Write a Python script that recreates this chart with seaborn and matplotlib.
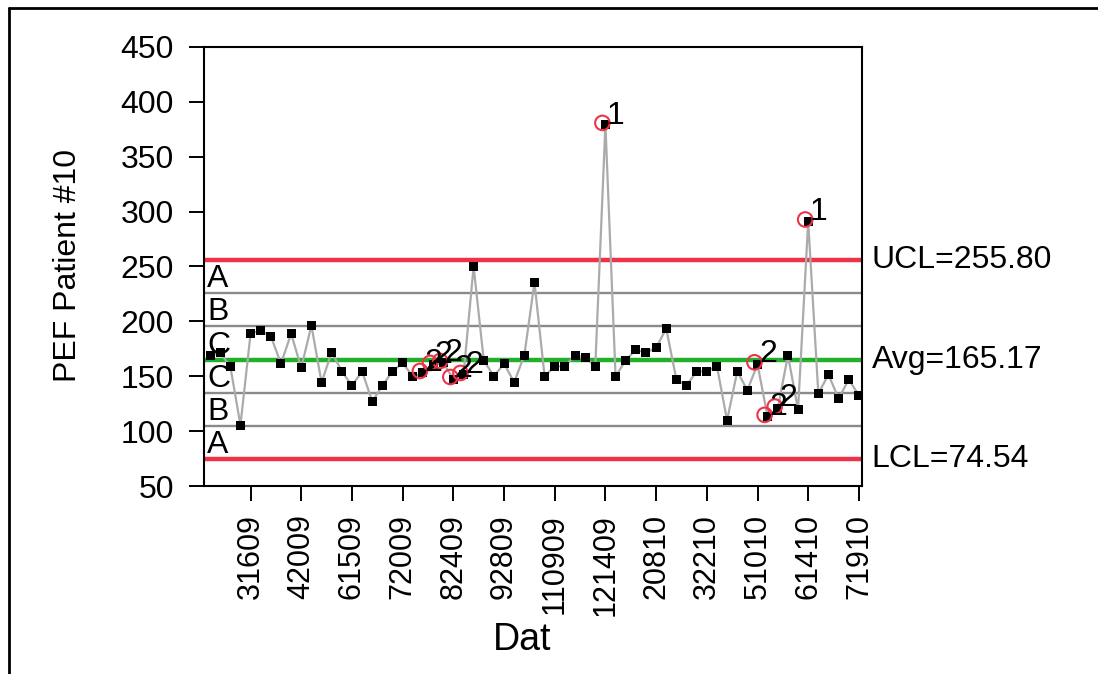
import matplotlib
matplotlib.use("Agg")
import numpy as np
import pandas as pd
import seaborn as sns
import matplotlib.pyplot as plt
from matplotlib.lines import Line2D
from matplotlib.transforms import offset_copy, blended_transform_factory
from matplotlib import font_manager

# ---------------- data ----------------
pef_values = [169.1, 171.2, 159.1, 105.5, 188.8, 191.8, 186.4, 161.5, 188.8, 157.6,
              196.4, 144.2, 172.1, 154.5, 141.5, 154.5, 127.0, 141.5, 154.5, 162.1,
              150.0, 153.0, 160.3, 162.1, 147.5, 151.2, 250.0, 164.5, 150.0, 161.5,
              144.5, 169.1, 235.5, 150.0, 159.1, 159.1, 169.1, 167.0, 159.1, 379.0,
              150.0, 164.5, 174.3, 171.5, 176.1, 193.4, 147.0, 141.5, 154.5, 154.5,
              159.1, 109.7, 154.5, 137.3, 160.9, 113.0, 120.6, 169.1, 119.7, 291.0,
              134.3, 151.5, 129.7, 147.0, 132.7]
tick_labels = ["31609", "42009", "61509", "72009", "82409", "92809", "110909",
               "121409", "20810", "32210", "51010", "61410", "71910"]
ucl = 255.80
avg = 165.17
lcl = 74.54
zone_letters = ["A", "B", "C", "C", "B", "A"]

# ---------------- tests ----------------
n = len(pef_values)
vals = np.array(pef_values)
test1 = [i for i in range(n) if vals[i] > ucl or vals[i] < lcl]
test2 = []
side = np.sign(vals - avg)
for i in range(8, n):
    s = side[i - 8:i + 1]
    if np.all(s == s[0]) and s[0] != 0:
        test2.append(i)

df = pd.DataFrame({"idx": np.arange(n), "PEF": vals})

# ---------------- style ----------------
sns.set_theme(style="ticks")
plt.rcParams["font.family"] = ["Liberation Sans", "DejaVu Sans"]
plt.rcParams["text.color"] = "black"
plt.rcParams["axes.labelcolor"] = "black"
FS = 23

installed = {f.name for f in font_manager.fontManager.ttflist}
narrow = ["Liberation Sans Narrow", "Liberation Sans"] if "Liberation Sans Narrow" in installed \
    else ["Liberation Sans", "DejaVu Sans"]

fig = plt.figure(figsize=(10.98, 6.74), dpi=100)
ax = fig.add_axes([0.1862, 0.2789, 0.785 - 0.1862, 0.9303 - 0.2789])

sigma = (ucl - avg) / 3.0
zone_lines = [avg + 2 * sigma, avg + sigma, avg - sigma, avg - 2 * sigma]
for y in zone_lines:
    ax.axhline(y, color="#8a8a8a", lw=1.7, zorder=1)
ax.axhline(ucl, color="#ee3349", lw=3.2, zorder=1)
ax.axhline(lcl, color="#ee3349", lw=3.2, zorder=1)
ax.axhline(avg, color="#22b02a", lw=3.2, zorder=1)

sns.lineplot(data=df, x="idx", y="PEF", color="#ababab", lw=1.6, ax=ax, zorder=2)
sns.scatterplot(data=df, x="idx", y="PEF", marker="s", s=42, color="black",
                edgecolor="none", ax=ax, zorder=3, legend=False)

# flagged points
circ_tr = offset_copy(ax.transData, fig=fig, x=-3, y=2, units="dots")
flag_idx = sorted(set(test1) | set(test2))
ax.scatter(df.idx[flag_idx], df.PEF[flag_idx], s=110, facecolors="none",
           edgecolors="#ee3349", linewidths=1.5, zorder=4, transform=circ_tr)
for i in test1:
    ax.annotate("1", (i, vals[i]), xytext=(1, 1), textcoords="offset points",
                ha="left", va="baseline", fontsize=FS, color="black", zorder=5)
for i in test2:
    ax.annotate("2", (i, vals[i]), xytext=(1, 1.5), textcoords="offset points",
                ha="left", va="baseline", fontsize=FS, color="black", zorder=5)

# zone letters
blend = blended_transform_factory(ax.transAxes, ax.transData)
letter_lines = [ucl, avg + 2 * sigma, avg + sigma, avg, avg - sigma, avg - 2 * sigma]
for lab, y in zip(zone_letters, letter_lines):
    ax.annotate(lab, (0, y), xycoords=blend, xytext=(2, -3), textcoords="offset points",
                ha="left", va="top", fontsize=FS, color="black", zorder=5)

# right labels
for lab, y in [("UCL=%.2f" % ucl, ucl), ("Avg=%.2f" % avg, avg), ("LCL=%.2f" % lcl, lcl)]:
    ax.annotate(lab, (1, y), xycoords=blend, xytext=(7, 0), textcoords="offset points",
                ha="left", va="center", fontsize=FS, color="black", annotation_clip=False)

# axes
ax.set_xlim(-0.55, n - 1 + 0.3)
ax.set_ylim(50, 450)
ax.set_yticks(np.arange(50, 451, 50))
tick_pos = np.arange(4, n, 5)
ax.set_xticks(tick_pos)
ax.set_xticklabels(tick_labels, rotation=90, family=narrow, fontsize=22)
ax.tick_params(axis="both", length=11, width=1.4, color="black",
               labelcolor="black", direction="out")
ax.tick_params(axis="y", pad=11, labelsize=FS)
ax.tick_params(axis="x", pad=9)
for sp in ax.spines.values():
    sp.set_color("black")
    sp.set_linewidth(1.5)
    sp.set_visible(True)

ax.set_xlabel("Dat", fontsize=27, color="black", family=narrow)
ax.set_ylabel("PEF Patient #10", fontsize=FS, color="black")
ax.xaxis.set_label_coords(0.483, -0.31)
ax.yaxis.label.set_va("center")
ax.yaxis.set_label_coords(-0.208, 0.503)

# figure frame (top and left)
fx = 8.5 / 1098
fy = 1 - 7.5 / 674
fig.add_artist(Line2D([fx, 1.0], [fy, fy], transform=fig.transFigure, color="black", lw=2))
fig.add_artist(Line2D([fx, fx], [0.0, fy], transform=fig.transFigure, color="black", lw=2))

fig.savefig("out.png", dpi=100)
